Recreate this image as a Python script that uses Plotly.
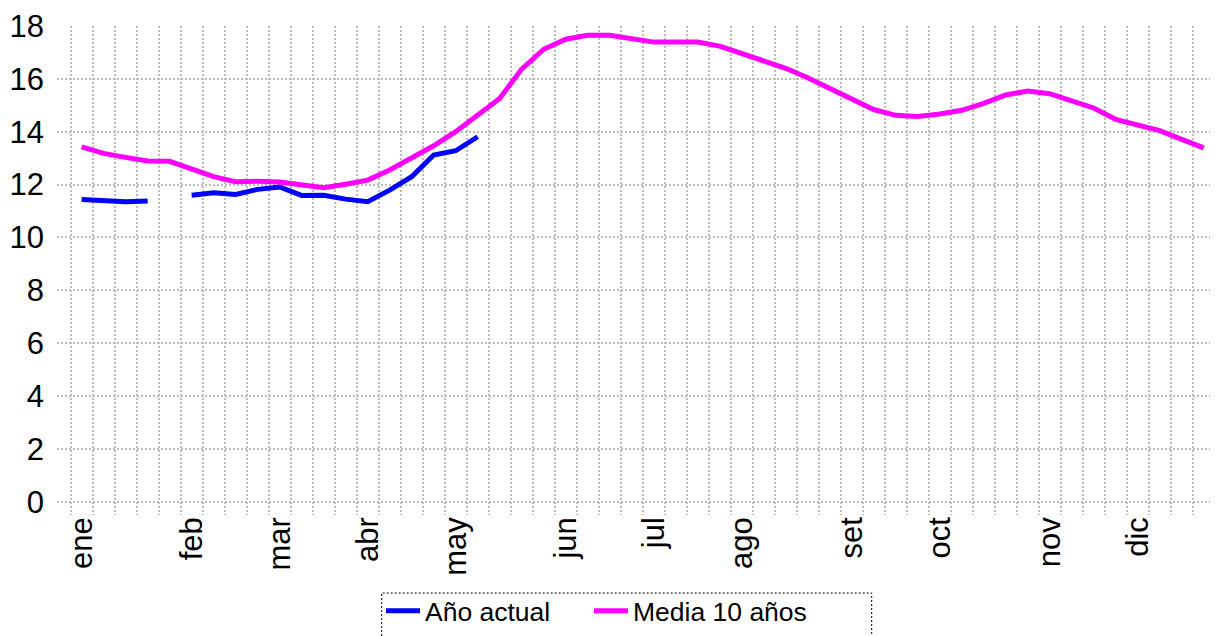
import plotly.graph_objects as go

# Weekly index (52 weeks) and month labels
weeks = list(range(52))
month_pos = [0, 5, 9, 13, 17, 22, 26, 30, 35, 39, 44, 48]
month_labels = ["ene", "feb", "mar", "abr", "may", "jun", "jul", "ago", "set", "oct", "nov", "dic"]

anio_actual = [11.44, 11.38, 11.35, 11.38, None, 11.60, 11.69, 11.63, 11.82, 11.91,
               11.59, 11.60, 11.45, 11.35, 11.79, 12.30, 13.12, 13.28, 13.81]

media_10 = [13.43, 13.18, 13.03, 12.89, 12.88, 12.59, 12.30, 12.11, 12.13, 12.10,
            11.98, 11.88, 12.01, 12.17, 12.55, 12.99, 13.47, 14.00, 14.66, 15.26,
            16.37, 17.12, 17.50, 17.65, 17.65, 17.51, 17.39, 17.39, 17.39, 17.24,
            16.97, 16.67, 16.40, 16.04, 15.65, 15.22, 14.84, 14.62, 14.58, 14.67,
            14.81, 15.07, 15.39, 15.54, 15.44, 15.17, 14.90, 14.47, 14.25, 14.04,
            13.71, 13.39]

FONT = "Liberation Sans, Arial, sans-serif"
GRID = "#bcbcbc"
OFF = 8  # page body margin offset
# plot area in screen pixels
SX0, SX1, SY0, SY1 = 57, 1218, 26, 515
L, R, T = SX0 - OFF, 1218 - (SX1 - OFF), SY0 - OFF
B = 636 - (SY1 - OFF)
PW, PH = SX1 - SX0, SY1 - SY0


def px(sx):
    return (sx - SX0) / PW


def py(sy):
    return (SY1 - sy) / PH


fig = go.Figure()
fig.add_trace(go.Scatter(x=weeks[:len(anio_actual)], y=anio_actual, mode="lines",
                         name="Año actual", line=dict(color="#0000FF", width=5),
                         connectgaps=False, legend="legend"))
fig.add_trace(go.Scatter(x=weeks, y=media_10, mode="lines",
                         name="Media 10 años", line=dict(color="#FF00FF", width=5),
                         legend="legend2"))

leg_common = dict(orientation="h", xanchor="left", y=py(587), yanchor="top",
                  font=dict(size=26.5, family=FONT), bgcolor="rgba(0,0,0,0)",
                  borderwidth=0, itemwidth=34)

fig.update_layout(
    width=1218, height=636,
    margin=dict(l=L, r=R, t=T, b=B, autoexpand=False),
    paper_bgcolor="white", plot_bgcolor="white",
    font=dict(family=FONT, color="black"),
    showlegend=True,
    legend=dict(x=px(381), **leg_common),
    legend2=dict(x=px(589), **leg_common),
    xaxis=dict(range=[-1.12, 51.65], tickmode="array", tickvals=month_pos,
               ticktext=month_labels, tickangle=-90, showgrid=False, zeroline=False,
               showline=False, ticks="", tickfont=dict(size=31, family=FONT),
               automargin=False, ticklabelstandoff=-5,
               minor=dict(tickmode="linear", tick0=-0.5, dtick=1, showgrid=True,
                          gridcolor=GRID, gridwidth=2, griddash="2px,2px", ticks="")),
    yaxis=dict(range=[-0.5, 18], tickmode="linear", tick0=0, dtick=2, showgrid=True,
               gridcolor=GRID, gridwidth=2, griddash="2px,2px", zeroline=False,
               showline=False, ticks="", ticklabelstandoff=12, automargin=False,
               tickfont=dict(size=31, family=FONT)),
    shapes=[dict(type="rect", xref="paper", yref="paper", x0=px(381.7),
                 x1=px(871.7), y0=py(660), y1=py(593),
                 line=dict(color="black", width=1, dash="2px,2px"),
                 fillcolor="rgba(0,0,0,0)")],
)

fig.write_html("out.html")
